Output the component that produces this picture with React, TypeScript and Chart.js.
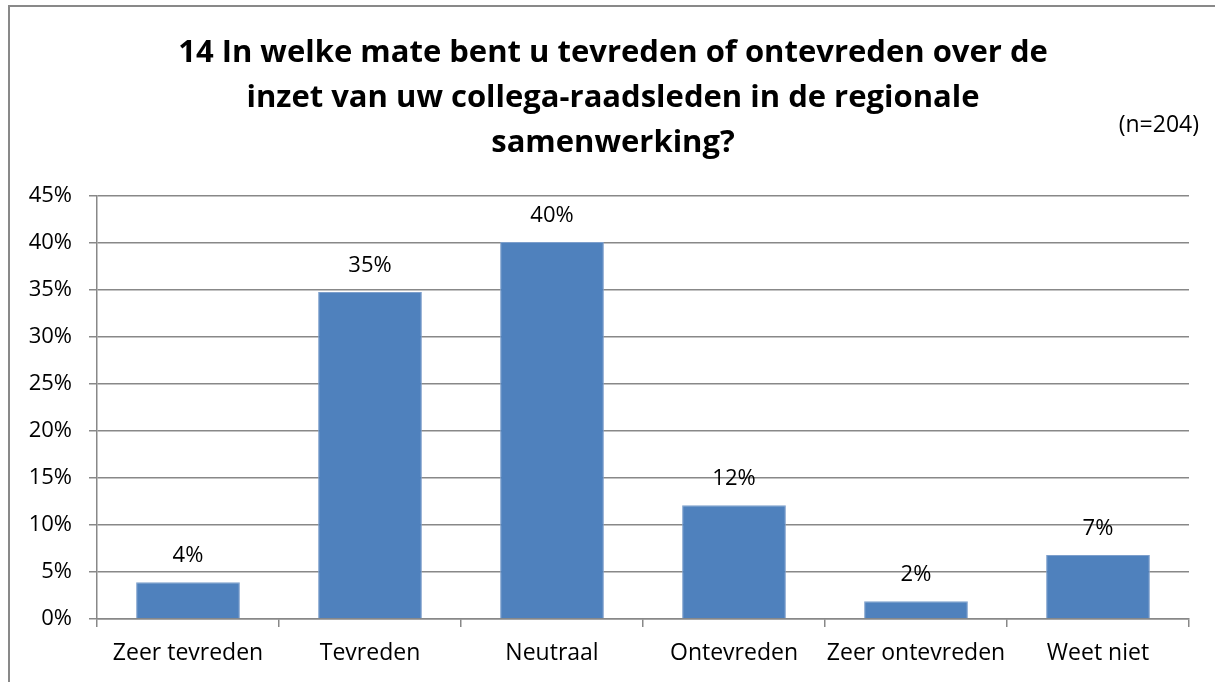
import React, { useEffect, useRef } from "react";
import { Chart, registerables } from "chart.js";

Chart.register(...registerables);

const categories = ["Zeer tevreden", "Tevreden", "Neutraal", "Ontevreden", "Zeer ontevreden", "Weet niet"];
const values = [3.9, 34.8, 40.1, 12.1, 1.9, 6.8];
const valueLabels = ["4%", "35%", "40%", "12%", "2%", "7%"];
const titleLines = [
  "14 In welke mate bent u tevreden of ontevreden over de",
  "inzet van uw collega-raadsleden in de regionale",
  "samenwerking?",
];
const noteText = "(n=204)";

const FONT = "'Open Sans', Lato, sans-serif";
const GRID = "#888888";

export default function App() {
  const ref = useRef<HTMLCanvasElement | null>(null);

  useEffect(() => {
    if (!ref.current) return;
    const titlePlugin = {
      id: "customTitle",
      afterDraw(chart: any) {
        const ctx = chart.ctx;
        ctx.save();
        ctx.font = `bold 31px ${FONT}`;
        ctx.fillStyle = "#000";
        ctx.textAlign = "center";
        ctx.textBaseline = "alphabetic";
        titleLines.forEach((line, i) => {
          ctx.fillText(line, 613, 62 + i * 45);
        });
        ctx.font = `23px ${FONT}`;
        ctx.textAlign = "right";
        ctx.fillText(noteText, 1199, 132);
        ctx.restore();
      },
    };
    const labelsPlugin = {
      id: "valueLabels",
      afterDatasetsDraw(chart: any) {
        const ctx = chart.ctx;
        const meta = chart.getDatasetMeta(0);
        ctx.save();
        ctx.font = `22px ${FONT}`;
        ctx.fillStyle = "#000";
        ctx.textAlign = "center";
        ctx.textBaseline = "alphabetic";
        meta.data.forEach((bar: any, i: number) => {
          ctx.fillText(valueLabels[i], bar.x, bar.y - 20);
        });
        ctx.restore();
      },
    };
    const chart = new Chart(ref.current, {
      type: "bar",
      data: {
        labels: categories,
        datasets: [
          {
            data: values,
            backgroundColor: "#4F81BD",
            borderColor: "#7d9fcc",
            borderWidth: 1,
            categoryPercentage: 1,
            barPercentage: 0.57,
          },
        ],
      },
      options: {
        responsive: false,
        animation: false,
        layout: { padding: { left: 0, right: 26, top: 196, bottom: 0 } },
        plugins: {
          legend: { display: false },
          tooltip: { enabled: false },
          title: { display: false },
        },
        scales: {
          x: {
            grid: {
              display: true,
              drawOnChartArea: false,
              drawTicks: true,
              tickLength: 8,
              color: GRID,
              lineWidth: 1.5,
            },
            border: { display: true, color: GRID, width: 1.5 },
            ticks: {
              color: "#000",
              font: { family: FONT, size: 23 },
              padding: 13,
              maxRotation: 0,
              autoSkip: false,
            },
            afterFit(scale: any) {
              scale.height = 63;
            },
          },
          y: {
            min: 0,
            max: 45,
            grid: {
              color: GRID,
              lineWidth: 1.5,
              tickLength: 8,
              drawTicks: true,
            },
            border: { display: true, color: GRID, width: 1.5 },
            ticks: {
              stepSize: 5,
              color: "#000",
              font: { family: FONT, size: 22 },
              padding: 17,
              callback: (v: any) => `${v}%`,
            },
            afterFit(scale: any) {
              scale.width = 97;
            },
          },
        },
      },
      plugins: [labelsPlugin, titlePlugin],
    });
    return () => chart.destroy();
  }, []);

  return (
    <div style={{ position: "fixed", left: 0, top: 0, width: 1215, height: 682, background: "#fff" }}>
      <div
        style={{
          position: "absolute",
          left: 8,
          top: 5,
          width: 1300,
          height: 800,
          borderLeft: "2px solid #898989",
          borderTop: "2px solid #898989",
        }}
      />
      <canvas
        ref={ref}
        width={1215}
        height={682}
        style={{ position: "absolute", left: 0, top: 0, width: 1215, height: 682, display: "block" }}
      />
    </div>
  );
}
